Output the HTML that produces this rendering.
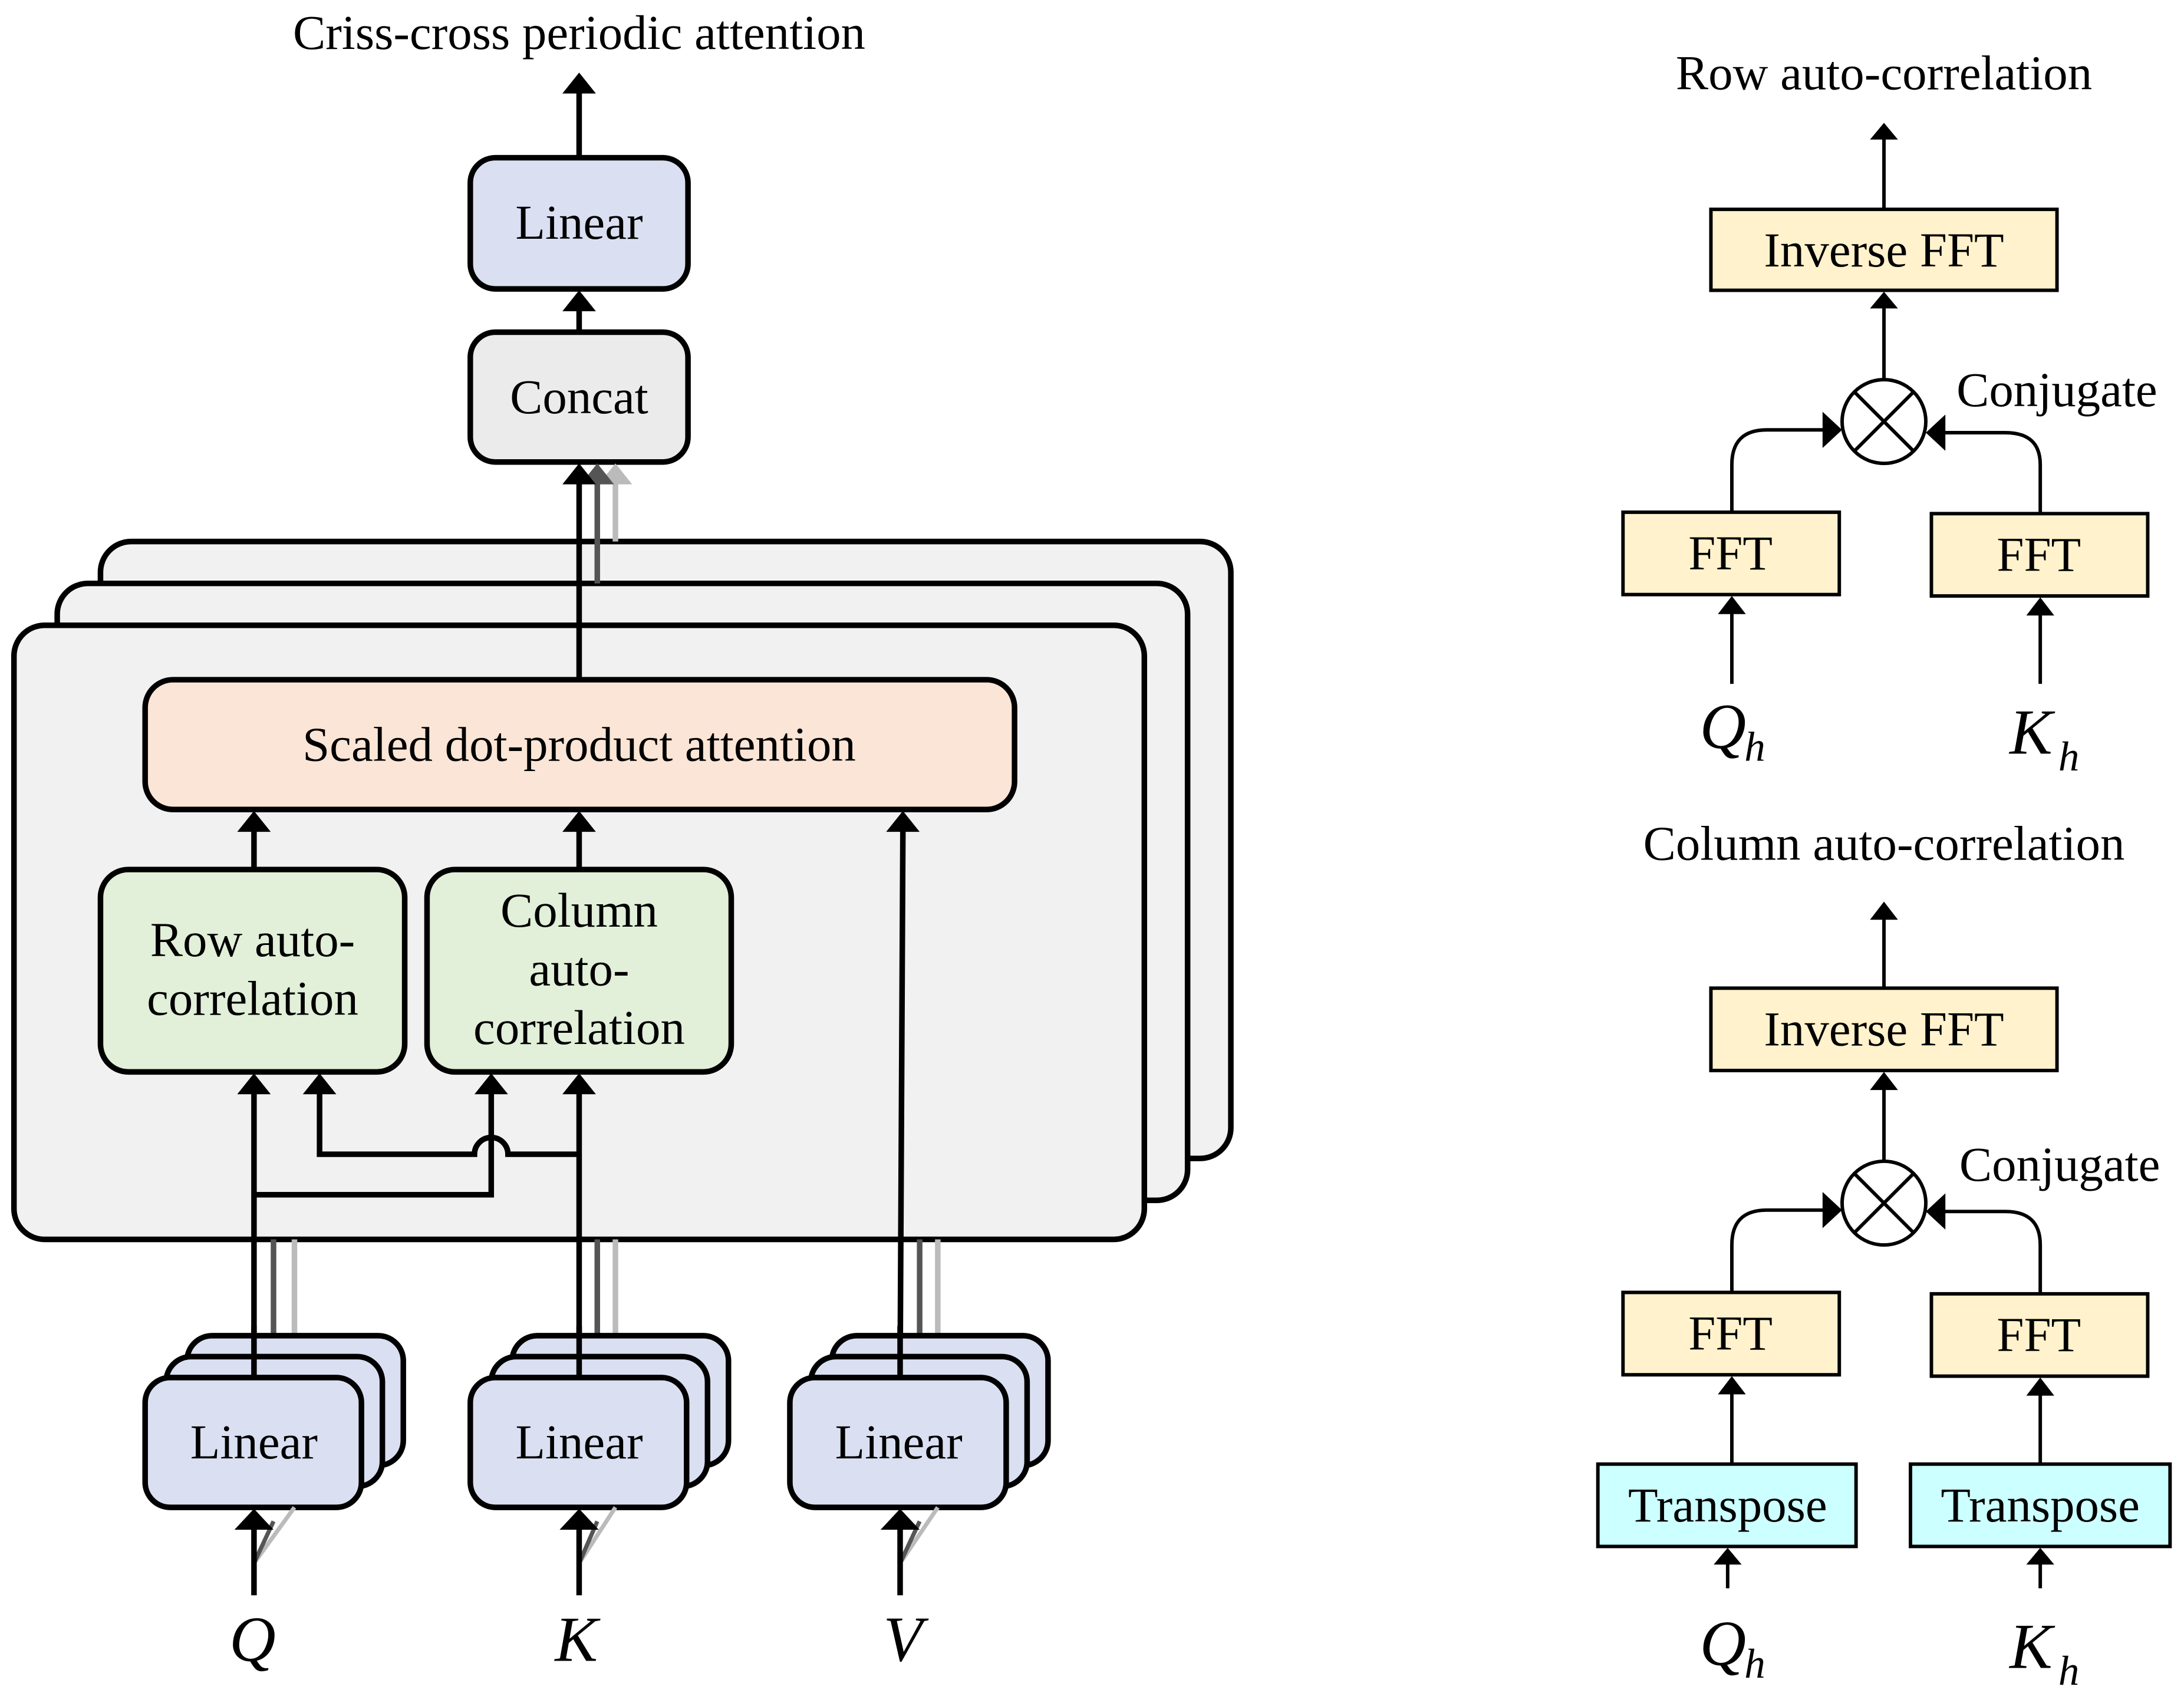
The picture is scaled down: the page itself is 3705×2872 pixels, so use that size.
<!DOCTYPE html>
<html><head><meta charset="utf-8"><style>
html,body{margin:0;padding:0;background:#fff;}
svg{display:block;}
text{font-family:"Liberation Serif",serif;fill:#000;}
</style></head><body>
<svg width="3705" height="2872" viewBox="0 0 1565 1213" preserveAspectRatio="none" xmlns="http://www.w3.org/2000/svg">
<style>
.ah{fill:#000}
</style>
<!-- Title -->
<text x="415" y="35" font-size="35" text-anchor="middle">Criss-cross periodic attention</text>
<line x1="415" y1="113" x2="415" y2="66" stroke="#000" stroke-width="4"/>
<path d="M403,67L415,52L427,67z" class="ah"/>
<rect x="337" y="113" width="156" height="94" rx="18" fill="#dae0f2" stroke="#000" stroke-width="4"/>
<text x="415" y="171" font-size="35" text-anchor="middle">Linear</text>
<line x1="415" y1="238" x2="415" y2="222" stroke="#000" stroke-width="4"/>
<path d="M403,223L415,208L427,223z" class="ah"/>
<rect x="337" y="238" width="156" height="93" rx="18" fill="#ebebeb" stroke="#000" stroke-width="4"/>
<text x="415" y="296" font-size="35" text-anchor="middle">Concat</text>

<!-- stacked big boxes -->
<rect x="72" y="388" width="810" height="442" rx="22" fill="#f1f1f1" stroke="#000" stroke-width="4"/>
<rect x="41" y="418" width="810" height="442" rx="22" fill="#f1f1f1" stroke="#000" stroke-width="4"/>
<line x1="441" y1="388" x2="441" y2="345" stroke="#bbb" stroke-width="4"/>
<path d="M429,347L441,332L453,347z" fill="#bbb"/>
<line x1="428" y1="418" x2="428" y2="345" stroke="#555" stroke-width="4"/>
<path d="M416,347L428,332L440,347z" fill="#555"/>
<rect x="10" y="448" width="810" height="440" rx="22" fill="#f1f1f1" stroke="#000" stroke-width="4"/>
<line x1="415" y1="487" x2="415" y2="345" stroke="#000" stroke-width="4"/>
<path d="M403,347L415,332L427,347z" class="ah"/>

<rect x="104" y="487" width="623" height="93" rx="20" fill="#fae5d6" stroke="#000" stroke-width="4"/>
<text x="415" y="545" font-size="35" text-anchor="middle">Scaled dot-product attention</text>

<line x1="182" y1="623" x2="182" y2="594" stroke="#000" stroke-width="4"/>
<path d="M170,596L182,581L194,596z" class="ah"/>
<line x1="415" y1="623" x2="415" y2="594" stroke="#000" stroke-width="4"/>
<path d="M403,596L415,581L427,596z" class="ah"/>

<rect x="72" y="623" width="218" height="145" rx="20" fill="#e2efd9" stroke="#000" stroke-width="4"/>
<text x="181" y="685" font-size="35" text-anchor="middle">Row auto-</text>
<text x="181" y="727" font-size="35" text-anchor="middle">correlation</text>
<rect x="306" y="623" width="218" height="145" rx="20" fill="#e2efd9" stroke="#000" stroke-width="4"/>
<text x="415" y="664" font-size="35" text-anchor="middle">Column</text>
<text x="415" y="706" font-size="35" text-anchor="middle">auto-</text>
<text x="415" y="748" font-size="35" text-anchor="middle">correlation</text>

<!-- inner connectors -->
<path d="M229,783V827H340A12,12 0 0 1 364,827H415" fill="none" stroke="#000" stroke-width="4"/>
<path d="M182,856H352V783" fill="none" stroke="#000" stroke-width="4"/>
<line x1="182" y1="985" x2="182" y2="783" stroke="#000" stroke-width="4"/>
<line x1="415" y1="985" x2="415" y2="783" stroke="#000" stroke-width="4"/>
<path d="M170,784L182,769L194,784z" class="ah"/>
<path d="M217,784L229,769L241,784z" class="ah"/>
<path d="M340,784L352,769L364,784z" class="ah"/>
<path d="M403,784L415,769L427,784z" class="ah"/>

<!-- V line -->
<line x1="645" y1="985" x2="647" y2="594" stroke="#000" stroke-width="4"/>
<path d="M635,596L647,581L659,596z" class="ah"/>

<!-- gray lines from stacks -->
<g stroke-width="4" fill="none">
<line x1="211" y1="958" x2="211" y2="888" stroke="#bbb"/>
<line x1="196" y1="972" x2="196" y2="888" stroke="#555"/>
<line x1="441" y1="958" x2="441" y2="888" stroke="#bbb"/>
<line x1="428" y1="972" x2="428" y2="888" stroke="#555"/>
<line x1="672" y1="958" x2="672" y2="888" stroke="#bbb"/>
<line x1="659" y1="972" x2="659" y2="888" stroke="#555"/>
</g>

<!-- Linear stacks -->
<g stroke="#000" stroke-width="4" fill="#dae0f2">
<rect x="134" y="957" width="155" height="93" rx="18"/>
<rect x="119" y="972" width="155" height="93" rx="18"/>
<rect x="104" y="987" width="155" height="93" rx="18"/>
<rect x="367" y="957" width="155" height="93" rx="18"/>
<rect x="352" y="972" width="155" height="93" rx="18"/>
<rect x="337" y="987" width="155" height="93" rx="18"/>
<rect x="596" y="957" width="155" height="93" rx="18"/>
<rect x="581" y="972" width="155" height="93" rx="18"/>
<rect x="566" y="987" width="155" height="93" rx="18"/>
</g>
<line x1="182" y1="987" x2="182" y2="950" stroke="#000" stroke-width="4"/>
<line x1="415" y1="987" x2="415" y2="950" stroke="#000" stroke-width="4"/>
<line x1="645" y1="987" x2="645" y2="950" stroke="#000" stroke-width="4"/>
<text x="182" y="1045" font-size="35" text-anchor="middle">Linear</text>
<text x="415" y="1045" font-size="35" text-anchor="middle">Linear</text>
<text x="644" y="1045" font-size="35" text-anchor="middle">Linear</text>

<!-- bottom inputs -->
<g stroke-width="3" fill="none">
<path d="M182,1120L211,1080" stroke="#bbb"/>
<path d="M182,1120L196,1090" stroke="#555"/>
<path d="M415,1120L441,1080" stroke="#bbb"/>
<path d="M415,1120L428,1090" stroke="#555"/>
<path d="M645,1120L672,1080" stroke="#bbb"/>
<path d="M645,1120L659,1090" stroke="#555"/>
</g>
<line x1="182" y1="1143" x2="182" y2="1094" stroke="#000" stroke-width="4"/>
<path d="M168,1096L182,1081L196,1096z" class="ah"/>
<line x1="415" y1="1143" x2="415" y2="1094" stroke="#000" stroke-width="4"/>
<path d="M401,1096L415,1081L429,1096z" class="ah"/>
<line x1="645" y1="1143" x2="645" y2="1094" stroke="#000" stroke-width="4"/>
<path d="M631,1096L645,1081L659,1096z" class="ah"/>
<text x="181" y="1190" font-size="46" font-style="italic" text-anchor="middle">Q</text>
<text x="413" y="1190" font-size="46" font-style="italic" text-anchor="middle">K</text>
<text x="647" y="1190" font-size="46" font-style="italic" text-anchor="middle">V</text>

<!-- Right: Row auto-correlation -->
<text x="1350" y="64" font-size="35" text-anchor="middle">Row auto-correlation</text>
<line x1="1350" y1="150" x2="1350" y2="98" stroke="#000" stroke-width="2.5"/>
<path d="M1340,100L1350,88L1360,100z" class="ah"/>
<rect x="1226" y="150" width="248" height="58" fill="#fff2cc" stroke="#000" stroke-width="2.5"/>
<text x="1350" y="191" font-size="35" text-anchor="middle">Inverse FFT</text>
<line x1="1350" y1="272" x2="1350" y2="220" stroke="#000" stroke-width="2.5"/>
<path d="M1340,221L1350,209L1360,221z" class="ah"/>
<ellipse cx="1350" cy="302" rx="30" ry="30" fill="#fff" stroke="#000" stroke-width="2.5"/>
<path d="M1329,281L1371,323M1371,281L1329,323" stroke="#000" stroke-width="2.5"/>
<text x="1402" y="291" font-size="35">Conjugate</text>
<path d="M1241,367V333Q1241,308 1266,308H1308" fill="none" stroke="#000" stroke-width="2.5"/>
<path d="M1306,295L1320,308L1306,321z" class="ah"/>
<path d="M1462,367V333Q1462,310 1437,310H1392" fill="none" stroke="#000" stroke-width="2.5"/>
<path d="M1394,297L1380,310L1394,323z" class="ah"/>
<rect x="1163" y="367" width="155" height="59" fill="#fff2cc" stroke="#000" stroke-width="2.5"/>
<text x="1240" y="408" font-size="35" text-anchor="middle">FFT</text>
<rect x="1384" y="368" width="155" height="59" fill="#fff2cc" stroke="#000" stroke-width="2.5"/>
<text x="1461" y="409" font-size="35" text-anchor="middle">FFT</text>
<line x1="1241" y1="490" x2="1241" y2="438" stroke="#000" stroke-width="2.5"/>
<path d="M1231,440L1241,427L1251,440z" class="ah"/>
<line x1="1462" y1="490" x2="1462" y2="439" stroke="#000" stroke-width="2.5"/>
<path d="M1452,441L1462,428L1472,441z" class="ah"/>
<text x="1218" y="536" font-size="46" font-style="italic">Q</text>
<text x="1250" y="545" font-size="30" font-style="italic">h</text>
<text x="1440" y="540" font-size="46" font-style="italic">K</text>
<text x="1475" y="552" font-size="30" font-style="italic">h</text>

<!-- Column auto-correlation -->
<text x="1350" y="616" font-size="35" text-anchor="middle">Column auto-correlation</text>
<line x1="1350" y1="708" x2="1350" y2="658" stroke="#000" stroke-width="2.5"/>
<path d="M1340,659L1350,646L1360,659z" class="ah"/>
<rect x="1226" y="708" width="248" height="59" fill="#fff2cc" stroke="#000" stroke-width="2.5"/>
<text x="1350" y="749" font-size="35" text-anchor="middle">Inverse FFT</text>
<line x1="1350" y1="832" x2="1350" y2="780" stroke="#000" stroke-width="2.5"/>
<path d="M1340,781L1350,768L1360,781z" class="ah"/>
<ellipse cx="1350" cy="862" rx="30" ry="30" fill="#fff" stroke="#000" stroke-width="2.5"/>
<path d="M1329,841L1371,883M1371,841L1329,883" stroke="#000" stroke-width="2.5"/>
<text x="1404" y="846" font-size="35">Conjugate</text>
<path d="M1241,926V892Q1241,867 1266,867H1308" fill="none" stroke="#000" stroke-width="2.5"/>
<path d="M1306,854L1320,867L1306,880z" class="ah"/>
<path d="M1462,926V892Q1462,868 1437,868H1392" fill="none" stroke="#000" stroke-width="2.5"/>
<path d="M1394,855L1380,868L1394,881z" class="ah"/>
<rect x="1163" y="926" width="155" height="59" fill="#fff2cc" stroke="#000" stroke-width="2.5"/>
<text x="1240" y="967" font-size="35" text-anchor="middle">FFT</text>
<rect x="1384" y="927" width="155" height="59" fill="#fff2cc" stroke="#000" stroke-width="2.5"/>
<text x="1461" y="968" font-size="35" text-anchor="middle">FFT</text>
<line x1="1241" y1="1049" x2="1241" y2="997" stroke="#000" stroke-width="2.5"/>
<path d="M1231,999L1241,986L1251,999z" class="ah"/>
<line x1="1462" y1="1049" x2="1462" y2="998" stroke="#000" stroke-width="2.5"/>
<path d="M1452,1000L1462,987L1472,1000z" class="ah"/>
<rect x="1145" y="1049" width="185" height="59" fill="#ccffff" stroke="#000" stroke-width="2.5"/>
<text x="1238" y="1090" font-size="35" text-anchor="middle">Transpose</text>
<rect x="1369" y="1049" width="186" height="59" fill="#ccffff" stroke="#000" stroke-width="2.5"/>
<text x="1462" y="1090" font-size="35" text-anchor="middle">Transpose</text>
<line x1="1238" y1="1138" x2="1238" y2="1120" stroke="#000" stroke-width="2.5"/>
<path d="M1228,1121L1238,1109L1248,1121z" class="ah"/>
<line x1="1462" y1="1138" x2="1462" y2="1120" stroke="#000" stroke-width="2.5"/>
<path d="M1452,1121L1462,1109L1472,1121z" class="ah"/>
<text x="1218" y="1193" font-size="46" font-style="italic">Q</text>
<text x="1250" y="1202" font-size="30" font-style="italic">h</text>
<text x="1440" y="1195" font-size="46" font-style="italic">K</text>
<text x="1475" y="1207" font-size="30" font-style="italic">h</text>
</svg>
</body></html>
